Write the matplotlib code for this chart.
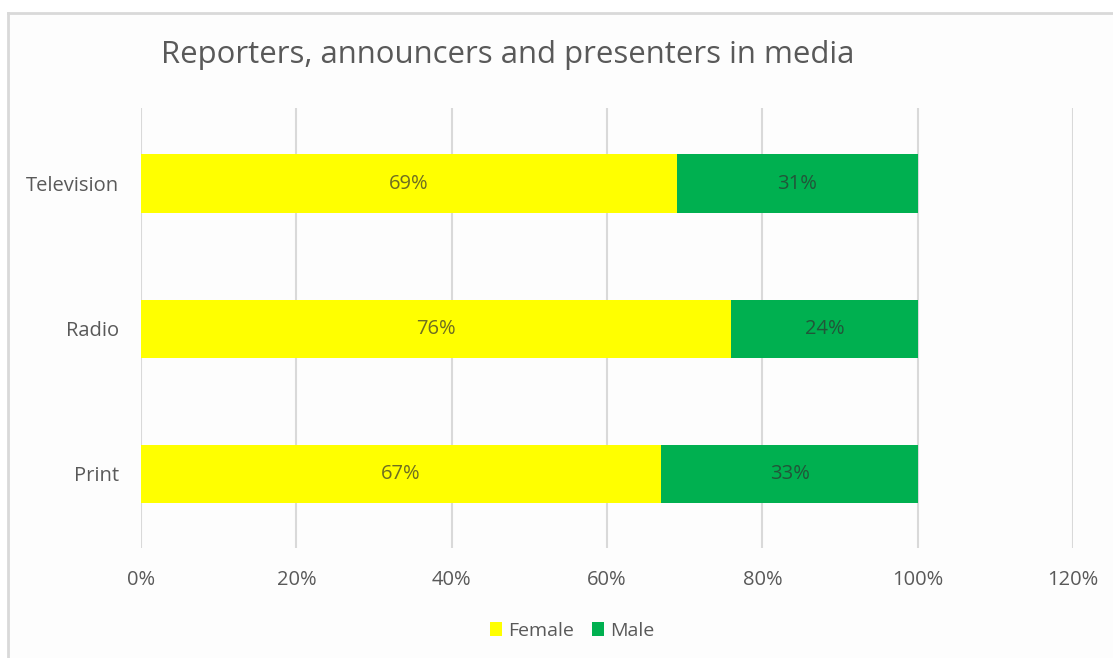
import numpy as np
import matplotlib.pyplot as plt
from matplotlib.lines import Line2D
from matplotlib.patches import Rectangle

plt.rcParams['font.family'] = ['Open Sans', 'DejaVu Sans']

categories = ['Print', 'Radio', 'Television']
female = [67, 76, 69]
male = [33, 24, 31]
xticks = [0, 20, 40, 60, 80, 100, 120]

yellow = '#FFFF00'
green = '#00B050'
text_grey = '#595959'

fig = plt.figure(figsize=(11.13, 6.58), dpi=100)
fig.patch.set_facecolor('white')

# chart area: light fill with only top and left edges showing
fx, fy = 8 / 1113, 1 - 13 / 658
fig.add_artist(Rectangle((fx, 0), 1 - fx, fy, transform=fig.transFigure,
                         facecolor='#fdfdfd', edgecolor='none', zorder=-10))
fig.add_artist(Line2D([fx, 1.0], [fy, fy], transform=fig.transFigure,
                      color='#d9d9d9', linewidth=2, zorder=-5))
fig.add_artist(Line2D([fx, fx], [0, fy], transform=fig.transFigure,
                      color='#d9d9d9', linewidth=2, zorder=-5))

ax = fig.add_axes([141 / 1113, 1 - 548 / 658, (1073 - 141) / 1113, (548 - 108) / 658])
ax.set_facecolor('none')

y = np.arange(len(categories))
bars_f = ax.barh(y, female, height=0.4, color=yellow, label='Female', zorder=2)
bars_m = ax.barh(y, male, left=female, height=0.4, color=green, label='Male', zorder=2)

for vals, offs in [(female, [0] * 3), (male, female)]:
    for yi, v, o in zip(y, vals, offs):
        ax.text(o + v / 2, yi, f'{v}%', ha='center', va='center',
                fontsize=14.5, color='#303030', alpha=0.7, zorder=3)

ax.set_xlim(0, 120)
ax.set_ylim(-0.51, 2.52)
ax.set_xticks(xticks)
ax.set_xticklabels([f'{t}%' for t in xticks], fontsize=14.5, color=text_grey)
ax.set_yticks(y)
ax.set_yticklabels(categories, fontsize=14.5, color=text_grey)
ax.tick_params(axis='both', length=0)
ax.tick_params(axis='x', pad=16)
ax.tick_params(axis='y', pad=16)
ax.grid(axis='x', color='#d9d9d9', linewidth=1.5, zorder=1)
for s in ax.spines.values():
    s.set_visible(False)

fig.text(161 / 1113, 1 - 63 / 658, 'Reporters, announcers and presenters in media',
         fontsize=22.4, color=text_grey, ha='left', va='baseline')

fig.legend(handles=[bars_f, bars_m], labels=['Female', 'Male'], loc='center',
           bbox_to_anchor=(572 / 1113, 1 - 631 / 658), ncol=2, frameon=False,
           fontsize=14, labelcolor=text_grey, handlelength=0.65, handleheight=0.7,
           handletextpad=0.3, columnspacing=0.9)

fig.savefig('out.png', dpi=100)
